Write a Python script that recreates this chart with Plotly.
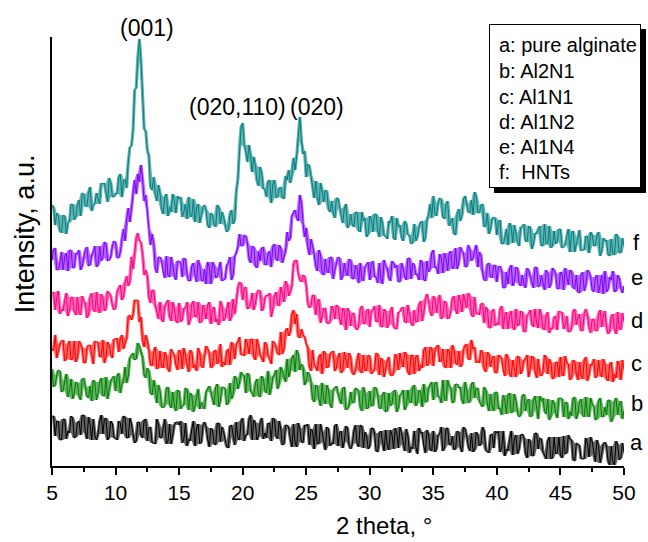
import plotly.graph_objects as go

# ---------------- data ----------------
# 2theta grid: main samples at 5.00, 5.25 ... 50.00 and in-between samples at 5.125 ... 49.875
THETA_START = 5.0
THETA_STEP = 0.125
N_MAIN = 181

# ---- f: HNTs ----
f_main = [
    261, 241, 251, 233, 250, 243, 262, 246, 261, 250, 272, 259, 279, 261, 273, 262, 282, 272, 288, 269,
    273, 289, 269, 287, 304, 320, 376, 408, 405, 337, 316, 279, 289, 265, 273, 252, 272, 259, 272, 253,
    267, 249, 262, 269, 250, 244, 262, 250, 261, 241, 253, 241, 261, 242, 249, 234, 252, 242, 275, 319,
    343, 315, 321, 294, 301, 280, 293, 277, 285, 263, 286, 269, 279, 267, 286, 283, 308, 310, 349, 312,
    289, 300, 276, 285, 261, 276, 276, 257, 265, 248, 268, 251, 258, 238, 252, 239, 254, 234, 245, 229,
    250, 234, 252, 229, 243, 230, 245, 250, 226, 239, 229, 245, 231, 222, 242, 229, 244, 224, 246, 262,
    270, 250, 268, 249, 262, 240, 248, 231, 257, 250, 270, 254, 266, 274, 253, 261, 239, 253, 237, 249,
    231, 246, 222, 237, 243, 223, 233, 220, 239, 225, 240, 217, 233, 237, 220, 242, 222, 218, 235, 224,
    237, 219, 231, 214, 235, 222, 236, 216, 230, 213, 231, 220, 234, 215, 225, 211, 227, 211, 230, 213,
    220,
]
f_mid = [
    259, 253, 235, 251, 232, 244, 262, 249, 266, 273, 260, 274, 255, 262, 266, 283, 283, 264, 283, 269,
    272, 292, 285, 278, 319, 335, 378, 427, 366, 335, 310, 276, 272, 281, 257, 269, 250, 254, 266, 270,
    269, 254, 247, 249, 267, 258, 243, 259, 256, 238, 251, 239, 259, 254, 241, 236, 256, 246, 287, 339,
    321, 304, 311, 309, 285, 299, 277, 269, 286, 282, 268, 278, 268, 290, 296, 291, 296, 333, 325, 315,
    302, 290, 268, 268, 283, 264, 275, 254, 253, 268, 258, 243, 262, 241, 241, 254, 235, 254, 248, 232,
    247, 252, 235, 249, 230, 227, 243, 228, 248, 241, 225, 242, 231, 223, 225, 239, 245, 228, 251, 248,
    252, 263, 267, 247, 265, 244, 232, 252, 245, 267, 262, 253, 251, 270, 253, 262, 240, 232, 247, 248,
    244, 222, 228, 221, 239, 241, 224, 239, 242, 224, 239, 222, 232, 240, 220, 222, 240, 220, 222, 237,
    218, 221, 237, 233, 214, 229, 215, 216, 230, 234, 220, 231, 210, 228, 226, 210, 212, 232, 213, 228,
]

# ---- e: Al1N4 ----
e_main = [
    206, 218, 196, 214, 209, 195, 216, 198, 212, 196, 208, 219, 201, 214, 199, 220, 208, 223, 206, 220,
    224, 208, 227, 225, 258, 257, 286, 292, 301, 265, 257, 221, 223, 193, 209, 194, 210, 189, 201, 186,
    205, 189, 207, 185, 200, 191, 206, 185, 197, 204, 182, 201, 189, 204, 186, 201, 209, 191, 213, 232,
    220, 230, 207, 220, 200, 215, 218, 201, 213, 199, 222, 205, 218, 209, 234, 228, 254, 248, 271, 242,
    238, 211, 220, 200, 216, 192, 207, 193, 209, 196, 209, 186, 203, 190, 206, 187, 198, 203, 185, 201,
    186, 205, 189, 203, 182, 200, 188, 205, 198, 184, 203, 189, 208, 187, 201, 192, 206, 186, 205, 197,
    216, 199, 212, 193, 208, 213, 197, 218, 203, 215, 199, 221, 205, 215, 199, 211, 186, 202, 189, 201,
    184, 200, 178, 194, 197, 180, 199, 182, 191, 178, 196, 182, 199, 179, 191, 176, 193, 182, 196, 177,
    194, 176, 190, 196, 178, 191, 173, 194, 181, 194, 176, 189, 173, 191, 195, 177, 186, 174, 191, 178,
    180,
]
e_mid = [
    217, 196, 203, 196, 213, 216, 198, 213, 216, 200, 216, 200, 211, 220, 201, 205, 224, 205, 209, 225,
    208, 214, 237, 247, 244, 273, 272, 284, 287, 271, 237, 232, 198, 209, 205, 188, 190, 209, 190, 205,
    203, 208, 191, 185, 203, 184, 201, 185, 182, 199, 204, 188, 198, 185, 187, 203, 186, 210, 219, 220,
    231, 223, 203, 219, 198, 205, 219, 201, 215, 220, 207, 221, 203, 215, 225, 250, 256, 245, 264, 229,
    218, 227, 212, 195, 211, 191, 195, 209, 187, 203, 208, 190, 194, 207, 187, 201, 183, 187, 199, 204,
    203, 189, 183, 187, 206, 198, 185, 203, 201, 184, 198, 186, 208, 203, 191, 186, 204, 185, 194, 213,
    198, 192, 208, 213, 195, 215, 199, 197, 219, 213, 199, 217, 208, 221, 214, 194, 185, 203, 188, 201,
    199, 195, 178, 182, 201, 184, 198, 180, 182, 198, 190, 178, 199, 180, 182, 196, 178, 198, 192, 177,
    193, 198, 181, 195, 177, 174, 191, 175, 196, 189, 174, 191, 181, 172, 174, 189, 195, 175, 188, 173,
]

# ---- d: Al1N2 ----
d_main = [
    173, 156, 175, 157, 166, 150, 169, 155, 169, 151, 165, 148, 169, 156, 174, 153, 169, 157, 173, 161,
    158, 178, 166, 184, 180, 209, 212, 233, 224, 191, 190, 163, 176, 154, 164, 144, 163, 149, 164, 145,
    163, 146, 158, 141, 162, 149, 164, 144, 156, 161, 142, 159, 147, 165, 145, 157, 145, 167, 163, 184,
    166, 179, 158, 173, 162, 176, 155, 168, 170, 149, 170, 161, 179, 164, 182, 174, 202, 206, 186, 191,
    181, 158, 171, 151, 167, 149, 158, 142, 160, 147, 160, 141, 155, 158, 140, 153, 136, 157, 142, 155,
    139, 156, 144, 161, 139, 155, 142, 159, 137, 154, 158, 144, 161, 143, 156, 144, 165, 153, 172, 154,
    170, 153, 171, 149, 164, 148, 168, 156, 171, 154, 165, 173, 151, 169, 153, 162, 143, 157, 138, 157,
    143, 157, 137, 154, 150, 138, 157, 141, 154, 134, 152, 142, 157, 138, 151, 136, 154, 138, 149, 136,
    154, 137, 150, 134, 155, 141, 152, 135, 157, 139, 147, 135, 152, 139, 155, 132, 150, 137, 154, 136,
    145,
]
d_mid = [
    174, 169, 152, 155, 173, 156, 169, 151, 153, 170, 163, 151, 173, 154, 157, 172, 155, 175, 170, 156,
    174, 181, 169, 190, 184, 197, 228, 225, 212, 196, 168, 176, 160, 147, 146, 160, 166, 145, 158, 143,
    144, 158, 164, 146, 165, 149, 143, 161, 147, 164, 156, 144, 141, 160, 148, 164, 149, 152, 178, 183,
    178, 157, 163, 156, 173, 175, 157, 171, 173, 157, 174, 160, 173, 185, 170, 180, 206, 192, 184, 190,
    163, 160, 171, 164, 143, 158, 143, 144, 157, 161, 147, 158, 136, 155, 153, 138, 140, 160, 142, 157,
    155, 160, 144, 139, 157, 138, 155, 140, 137, 154, 159, 143, 153, 140, 144, 161, 145, 167, 165, 150,
    168, 163, 147, 165, 147, 155, 170, 152, 166, 172, 158, 170, 149, 152, 151, 163, 159, 138, 155, 140,
    141, 160, 151, 137, 155, 136, 140, 155, 134, 151, 156, 139, 143, 157, 137, 151, 133, 137, 150, 155,
    154, 140, 134, 138, 157, 149, 135, 153, 151, 133, 147, 135, 156, 151, 139, 134, 152, 132, 138, 153,
]

# ---- c: Al1N1 ----
c_main = [
    117, 131, 115, 125, 105, 121, 106, 125, 108, 122, 103, 118, 121, 102, 124, 109, 126, 109, 121, 108,
    127, 114, 131, 123, 150, 146, 166, 166, 149, 119, 125, 101, 114, 97, 115, 98, 110, 94, 113, 101,
    116, 97, 111, 94, 114, 101, 118, 100, 111, 117, 98, 115, 102, 122, 104, 115, 101, 120, 122, 129,
    112, 127, 112, 127, 106, 121, 108, 124, 110, 102, 123, 112, 134, 117, 138, 134, 156, 152, 128, 131,
    122, 99, 116, 99, 109, 92, 113, 99, 114, 95, 109, 93, 114, 98, 109, 91, 107, 94, 111, 95,
    110, 94, 113, 91, 106, 97, 109, 90, 112, 96, 105, 114, 94, 111, 92, 111, 101, 116, 100, 119,
    100, 119, 104, 117, 98, 115, 121, 103, 115, 101, 121, 107, 126, 119, 105, 116, 97, 114, 99, 110,
    93, 110, 96, 112, 92, 106, 89, 109, 96, 107, 89, 110, 95, 107, 90, 111, 92, 103, 88, 104,
    109, 90, 103, 86, 106, 92, 104, 87, 109, 91, 101, 88, 106, 89, 102, 85, 104, 92, 105, 86,
    97,
]
c_mid = [
    115, 108, 122, 126, 107, 125, 107, 104, 125, 118, 103, 121, 111, 125, 124, 109, 103, 124, 111, 127,
    128, 128, 117, 128, 151, 151, 166, 144, 126, 131, 116, 100, 119, 98, 99, 114, 97, 117, 111, 96,
    113, 118, 102, 116, 98, 95, 113, 98, 120, 113, 99, 116, 107, 99, 101, 117, 124, 107, 124, 111,
    110, 122, 127, 109, 127, 111, 104, 122, 107, 125, 119, 111, 112, 135, 130, 152, 142, 129, 137, 129,
    118, 95, 101, 95, 112, 115, 98, 112, 115, 98, 113, 95, 105, 113, 93, 96, 113, 93, 96, 111,
    92, 96, 112, 108, 89, 105, 91, 93, 108, 113, 99, 112, 91, 111, 109, 95, 98, 119, 102, 118,
    116, 121, 105, 99, 117, 98, 116, 101, 99, 116, 122, 106, 117, 103, 103, 114, 94, 112, 108, 93,
    111, 107, 90, 108, 89, 97, 110, 92, 106, 111, 97, 109, 88, 92, 94, 109, 107, 87, 104, 89,
    91, 110, 102, 88, 105, 86, 91, 106, 85, 102, 107, 90, 93, 107, 87, 102, 84, 88, 101, 106,
]

# ---- b: Al2N1 ----
b_main = [
    97, 81, 96, 74, 85, 69, 87, 72, 83, 66, 88, 70, 80, 86, 66, 84, 70, 89, 75, 88,
    75, 93, 82, 99, 90, 111, 106, 123, 114, 91, 98, 73, 86, 63, 75, 58, 78, 62, 74, 55,
    75, 60, 78, 56, 71, 60, 77, 64, 57, 77, 74, 61, 82, 66, 79, 61, 83, 71, 88, 83,
    91, 73, 91, 73, 83, 70, 90, 75, 95, 78, 91, 77, 99, 88, 107, 96, 111, 116, 96, 99,
    84, 91, 67, 81, 67, 83, 62, 76, 58, 78, 73, 62, 79, 57, 74, 63, 77, 59, 79, 57,
    75, 60, 78, 58, 71, 54, 73, 62, 76, 58, 72, 56, 76, 63, 81, 64, 75, 82, 64, 81,
    66, 84, 69, 86, 65, 80, 63, 82, 78, 66, 84, 63, 82, 68, 78, 61, 79, 62, 72, 55,
    74, 58, 71, 52, 73, 54, 65, 49, 70, 55, 67, 50, 70, 47, 65, 55, 67, 50, 63, 48,
    68, 49, 64, 54, 68, 47, 64, 51, 69, 49, 62, 46, 65, 49, 59, 66, 44, 64, 51, 65,
    55,
]
b_mid = [
    79, 91, 95, 75, 92, 75, 67, 84, 70, 87, 79, 68, 65, 84, 73, 88, 70, 67, 85, 90,
    90, 73, 85, 83, 108, 113, 107, 120, 109, 88, 95, 71, 77, 81, 59, 61, 79, 58, 61, 76,
    57, 61, 77, 73, 54, 71, 57, 60, 74, 80, 67, 79, 59, 79, 77, 63, 67, 90, 77, 94,
    90, 93, 75, 69, 87, 69, 87, 73, 71, 89, 96, 82, 95, 84, 89, 108, 94, 112, 102, 81,
    94, 84, 64, 80, 60, 67, 81, 62, 76, 80, 66, 78, 56, 61, 63, 78, 75, 55, 73, 58,
    60, 79, 71, 57, 74, 55, 60, 75, 54, 71, 76, 60, 64, 79, 60, 76, 59, 64, 78, 84,
    83, 69, 63, 67, 86, 78, 64, 82, 79, 62, 76, 64, 84, 78, 65, 59, 76, 55, 60, 74,
    57, 51, 66, 71, 53, 72, 54, 51, 72, 65, 49, 66, 56, 70, 68, 52, 46, 66, 53, 68,
    67, 63, 47, 50, 69, 53, 67, 49, 51, 68, 60, 47, 68, 49, 51, 66, 48, 68, 62, 47,
]

# ---- a: pure alginate ----
a_main = [
    50, 30, 45, 26, 47, 35, 50, 28, 43, 31, 51, 27, 41, 47, 26, 45, 32, 48, 29, 42,
    28, 45, 32, 49, 28, 42, 23, 44, 31, 46, 25, 39, 23, 47, 28, 38, 22, 42, 31, 44,
    41, 23, 43, 27, 37, 20, 42, 24, 44, 27, 38, 22, 43, 24, 34, 19, 40, 29, 44, 26,
    48, 31, 47, 26, 43, 30, 48, 33, 43, 25, 47, 27, 37, 22, 41, 27, 42, 19, 37, 23,
    40, 21, 35, 42, 22, 34, 16, 37, 23, 40, 20, 35, 25, 38, 17, 35, 23, 41, 18, 30,
    20, 38, 15, 33, 23, 36, 16, 31, 38, 18, 33, 15, 30, 19, 35, 12, 33, 20, 36, 16,
    35, 17, 32, 15, 38, 21, 30, 17, 34, 14, 37, 20, 33, 16, 31, 22, 35, 14, 31, 18,
    33, 14, 35, 17, 27, 11, 31, 17, 32, 13, 27, 10, 33, 17, 27, 11, 25, 7, 29, 13,
    11, 30, 13, 27, 6, 23, 20, 7, 28, 9, 24, 4, 20, 11, 24, 5, 20, 1, 21, 8,
    14,
]
a_mid = [
    50, 45, 26, 47, 27, 33, 48, 29, 45, 51, 34, 49, 26, 30, 32, 51, 47, 26, 45, 28,
    26, 43, 50, 28, 48, 31, 25, 44, 28, 47, 38, 23, 22, 42, 28, 47, 25, 22, 41, 44,
    45, 27, 20, 25, 45, 38, 22, 41, 39, 19, 36, 21, 43, 39, 25, 18, 41, 21, 27, 45,
    25, 31, 51, 46, 26, 43, 27, 28, 43, 48, 30, 45, 21, 41, 38, 19, 23, 43, 24, 41,
    42, 37, 17, 22, 42, 24, 39, 20, 22, 42, 33, 18, 40, 20, 22, 41, 19, 40, 34, 17,
    38, 33, 14, 35, 15, 21, 36, 17, 33, 39, 22, 37, 13, 17, 19, 38, 34, 13, 32, 15,
    14, 31, 39, 18, 38, 21, 16, 35, 19, 39, 30, 15, 14, 34, 20, 39, 16, 13, 32, 35,
    35, 18, 10, 15, 35, 27, 12, 31, 28, 8, 25, 10, 33, 28, 14, 7, 29, 8, 12, 29,
    8, 12, 31, 26, 5, 22, 7, 7, 23, 29, 11, 26, 3, 22, 20, 1, 4, 25, 6, 23,
]

series_letters = ["f", "e", "d", "c", "b", "a"]
series_main = [f_main, e_main, d_main, c_main, b_main, a_main]
series_mid = [f_mid, e_mid, d_mid, c_mid, b_mid, a_mid]
series_colors = ["#008080", "#8000FF", "#FF0080", "#FF0000", "#008000", "#000000"]
series_rgb = ["0,128,128", "128,0,255", "255,0,128", "255,0,0", "0,128,0", "0,0,0"]
series_label_y = [224, 189, 146, 103, 63, 24]  # side letters (a.u.)

legend_lines = ["a: pure alginate", "b: Al2N1", "c: Al1N1", "d: Al1N2", "e: Al1N4", "f:\u00a0 HNTs"]
x_tick_values = [5, 10, 15, 20, 25, 30, 35, 40, 45, 50]

# ---------------- layout geometry ----------------
W, H = 648, 542
L, R, T, B = 52, 20, 37, 76
PW, PH = W - L - R, H - T - B
Y_MAX = 429
FONT = "Arial, Liberation Sans, sans-serif"


def px2paper_x(px):
    return (px - L) / PW


def px2paper_y(py):
    return (H - B - py) / PH


def interleave(main, mid):
    assert len(main) == N_MAIN and len(mid) == N_MAIN - 1
    out = []
    for m, h in zip(main[:-1], mid):
        out += [m, h]
    out.append(main[-1])
    return out


def local_range(vals):
    lo, hi = [], []
    n = len(vals)
    for k in range(n):
        win = vals[max(0, k - 1):min(n, k + 2)]
        lo.append(min(win))
        hi.append(max(win))
    return lo, hi


two_theta = [THETA_START + THETA_STEP * k for k in range(2 * N_MAIN - 1)]

fig = go.Figure()
for letter, main, mid, col, rgb in zip(series_letters, series_main, series_mid,
                                       series_colors, series_rgb):
    vals = interleave(main, mid)
    lo, hi = local_range(vals)
    # dense scatter band of the noisy pattern
    fig.add_trace(go.Scatter(x=two_theta, y=lo, mode="lines", line=dict(width=0, color=col),
                             showlegend=False, hoverinfo="skip"))
    fig.add_trace(go.Scatter(x=two_theta, y=hi, mode="lines", line=dict(width=0, color=col),
                             fill="tonexty", fillcolor="rgba(%s,0.6)" % rgb,
                             showlegend=False, hoverinfo="skip"))
    fig.add_trace(go.Scatter(x=two_theta, y=vals, mode="lines",
                             line=dict(color=col, width=1), name=letter,
                             showlegend=False, hoverinfo="skip"))

annotations = []

# legend box: drop shadow, then white framed box (annotations so they sit above the traces)
annotations.append(dict(x=px2paper_x(497), y=px2paper_y(29), xref="paper", yref="paper",
                        text=" ", showarrow=False, xanchor="left", yanchor="top",
                        width=152, height=164, bgcolor="black", borderwidth=0, borderpad=0))
annotations.append(dict(x=px2paper_x(492), y=px2paper_y(24), xref="paper", yref="paper",
                        text=" ", showarrow=False, xanchor="left", yanchor="top",
                        width=150, height=162, bgcolor="white", bordercolor="black",
                        borderwidth=1, borderpad=0))

legend_y_px = [45, 71, 97, 122, 147, 172]
for txt, ypx in zip(legend_lines, legend_y_px):
    annotations.append(dict(x=px2paper_x(500), y=px2paper_y(ypx), xref="paper", yref="paper",
                            text=txt, showarrow=False, xanchor="left", yanchor="middle",
                            font=dict(family=FONT, size=20, color="black")))

for letter, yv in zip(series_letters, series_label_y):
    annotations.append(dict(x=px2paper_x(641), y=yv, xref="paper", yref="y", text=letter,
                            showarrow=False, xanchor="center", yanchor="middle",
                            font=dict(family=FONT, size=22, color="black")))

# peak labels
annotations.append(dict(x=12.48, y=px2paper_y(28), xref="x", yref="paper", text="(001)",
                        showarrow=False, xanchor="center", yanchor="middle",
                        font=dict(family=FONT, size=23, color="black")))
annotations.append(dict(x=23.55, y=359, xref="x", yref="y", text="(020,110)",
                        showarrow=False, xanchor="right", yanchor="middle",
                        font=dict(family=FONT, size=23, color="black")))
annotations.append(dict(x=23.55, y=359, xref="x", yref="y", text="(020)",
                        showarrow=False, xanchor="left", yanchor="middle",
                        font=dict(family=FONT, size=23, color="black")))

# axis titles
annotations.append(dict(x=px2paper_x(386), y=px2paper_y(525), xref="paper", yref="paper",
                        text="2 theta, \u00b0", showarrow=False, xanchor="center", yanchor="middle",
                        font=dict(family=FONT, size=24, color="black")))
annotations.append(dict(x=px2paper_x(25), y=px2paper_y(234), xref="paper", yref="paper",
                        text="Intensity, a.u.", showarrow=False, textangle=-90,
                        xanchor="center", yanchor="middle",
                        font=dict(family=FONT, size=27, color="black")))

fig.update_layout(
    width=W, height=H,
    margin=dict(l=L, r=R, t=T, b=B, pad=0),
    paper_bgcolor="white", plot_bgcolor="white",
    font=dict(family=FONT, color="black"),
    annotations=annotations,
    xaxis=dict(range=[5, 50], tickvals=x_tick_values, ticks="outside", ticklen=7,
               tickwidth=1.5, tickcolor="black", showline=True, linecolor="black",
               linewidth=1.5, showgrid=False, zeroline=False,
               tickfont=dict(family=FONT, size=21, color="black"),
               minor=dict(dtick=2.5, tick0=5, ticks="outside", ticklen=4,
                          tickwidth=1.5, tickcolor="black", showgrid=False)),
    yaxis=dict(range=[0, Y_MAX], showline=True, linecolor="black", linewidth=1.5,
               showgrid=False, zeroline=False, showticklabels=False, ticks=""),
)

fig.write_html("out.html")
